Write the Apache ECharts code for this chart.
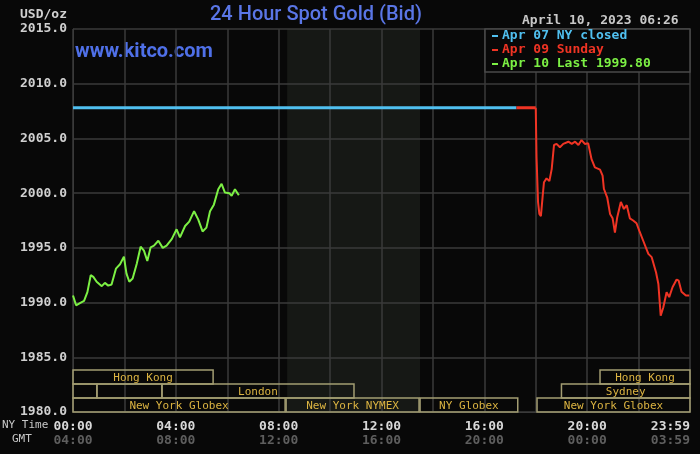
<!DOCTYPE html>
<html>
<head>
<meta charset="utf-8">
<script src="https://cdn.jsdelivr.net/npm/echarts@6/dist/echarts.min.js"></script>
<style>
  html, body { margin: 0; padding: 0; background: #080808; }
  #chart { width: 700px; height: 454px; }
</style>
</head>
<body>
<div id="chart"></div>
<script>
// hours are NY time on the 24h axis
const closeHours = [0, 17.25]
const closePrices = [2007.8, 2007.8]

const sundayFlatHours = [17.25, 18.0]
const sundayFlatPrices = [2007.8, 2007.8]

const sundayHours = [18.0, 18.03, 18.09, 18.14, 18.2, 18.27, 18.32, 18.42, 18.53, 18.62, 18.71, 18.81,
  18.94, 19.07, 19.27, 19.4, 19.53, 19.66, 19.78, 19.91, 20.04, 20.17, 20.3, 20.5, 20.6, 20.65,
  20.78, 20.89, 20.99, 21.08, 21.17, 21.31, 21.43, 21.54, 21.66, 21.79, 21.92, 22.03, 22.18,
  22.38, 22.51, 22.68, 22.77, 22.86, 22.96, 23.09, 23.19, 23.32, 23.48, 23.56, 23.67, 23.84, 23.97]
const sundayPrices = [2007.8, 2003.3, 1999.15, 1998.1, 1997.9, 1999.75, 2001.0, 2001.35, 2001.1, 2002.2, 2004.4, 2004.5,
  2004.2, 2004.5, 2004.7, 2004.5, 2004.7, 2004.4, 2004.85, 2004.5, 2004.55, 2003.1, 2002.35, 2002.15, 2001.6, 2000.4,
  1999.6, 1998.1, 1997.7, 1996.4, 1997.8, 1999.2, 1998.55, 1998.9, 1997.7, 1997.5, 1997.25, 1996.55, 1995.65,
  1994.45, 1994.15, 1992.75, 1991.7, 1988.8, 1989.55, 1990.95, 1990.5, 1991.4, 1992.1, 1992.0, 1991.0, 1990.65, 1990.65]

const todayHours = [0, 0.12, 0.27, 0.43, 0.56, 0.69, 0.79, 0.92, 1.12, 1.24, 1.37, 1.5, 1.67, 1.83,
  1.98, 2.08, 2.19, 2.32, 2.48, 2.63, 2.76, 2.89, 3.02, 3.15, 3.32, 3.49, 3.64, 3.84, 4.03, 4.16,
  4.36, 4.52, 4.71, 4.87, 5.04, 5.19, 5.33, 5.48, 5.65, 5.78, 5.91, 6.08, 6.17, 6.3, 6.45]
const todayPrices = [1990.65, 1989.75, 1989.95, 1990.15, 1990.95, 1992.5, 1992.35, 1991.9, 1991.5, 1991.8, 1991.55, 1991.65, 1993.1, 1993.5,
  1994.2, 1992.65, 1991.9, 1992.2, 1993.55, 1995.1, 1994.75, 1993.8, 1995.05, 1995.2, 1995.65, 1995.0, 1995.2, 1995.8, 1996.7, 1995.95,
  1997.0, 1997.4, 1998.35, 1997.6, 1996.5, 1996.85, 1998.35, 1998.95, 2000.35, 2000.85, 2000.05, 2000.0, 1999.75, 2000.35, 1999.8]

// NYMEX pit session shading
const pitHours = [8.33, 13.5]

// market sessions: row 0 = bottom
const sessionNames = ['New York Globex', 'New York NYMEX', 'NY Globex', 'New York Globex',
  '', '', 'London', 'Sydney', 'Hong Kong', 'Hong Kong']
const sessionStart = [0, 8.29, 13.5, 18.05, 0, 0.93, 3.46, 19.0, 0, 20.5]
const sessionEnd = [8.25, 13.46, 17.3, 24, 0.93, 3.46, 10.93, 24, 5.45, 24]
const sessionRow = [0, 0, 0, 0, 1, 1, 1, 1, 2, 2]

const yTicks = [1980, 1985, 1990, 1995, 2000, 2005, 2010, 2015]

const mono = 'DejaVu Sans Mono'
const gridColor = '#3a3a3a'
const rowH = 1.28

const pad = n => String(n).padStart(2, '0')
const toPairs = (xs, ys) => xs.map((x, i) => [x, ys[i]])

const option = {
  backgroundColor: '#080808',
  animation: false,
  grid: { left: 73, right: 10, top: 29, bottom: 42 },
  legend: {
    left: 492,
    top: 29,
    orient: 'vertical',
    padding: 0,
    itemGap: 0,
    itemWidth: 6,
    itemHeight: 2,
    icon: 'rect',
    selectedMode: false,
    z: 10,
    textStyle: { fontFamily: mono, fontSize: 13, fontWeight: 'bold', lineHeight: 14, padding: [0, 0, 0, -1] },
    data: [
      { name: 'Apr 07 NY closed', textStyle: { color: '#50c0f0' } },
      { name: 'Apr 09 Sunday', textStyle: { color: '#f03424' } },
      { name: 'Apr 10 Last 1999.80', textStyle: { color: '#7cf044' } }
    ]
  },
  xAxis: {
    type: 'value',
    min: 0,
    max: 24,
    interval: 2,
    axisLine: { show: true, lineStyle: { color: gridColor } },
    axisTick: { show: false },
    splitLine: { show: true, lineStyle: { color: gridColor, width: 1.5 } },
    axisLabel: {
      margin: 8,
      alignMaxLabel: 'right',
      fontFamily: mono,
      fontSize: 13,
      fontWeight: 'bold',
      lineHeight: 14,
      formatter: v => {
        if (v % 4 !== 0) return ''
        const ny = v === 24 ? '23:59' : pad(v) + ':00'
        const gmt = v === 24 ? '03:59' : pad((v + 4) % 24) + ':00'
        return '{a|' + ny + '}\n{b|' + gmt + '}'
      },
      rich: {
        a: { color: '#d8d8d8', fontFamily: mono, fontSize: 13, fontWeight: 'bold', lineHeight: 14 },
        b: { color: '#5e5e5e', fontFamily: mono, fontSize: 13, fontWeight: 'bold', lineHeight: 14 }
      }
    }
  },
  yAxis: {
    type: 'value',
    min: yTicks[0],
    max: yTicks[yTicks.length - 1],
    interval: 5,
    axisLine: { show: true, lineStyle: { color: gridColor } },
    axisTick: { show: false },
    splitLine: { show: true, lineStyle: { color: gridColor, width: 1.5 } },
    axisLabel: {
      margin: 6,
      color: '#d0d0d0',
      fontFamily: mono,
      fontSize: 13,
      fontWeight: 'bold',
      formatter: v => v.toFixed(1)
    }
  },
  graphic: [
    {
      type: 'rect', z: 5,
      shape: { x: 485, y: 29, width: 205, height: 43 },
      style: { fill: '#080808', stroke: '#4a4a4a', lineWidth: 1.5 }
    },
    {
      type: 'text', left: 210, top: 5,
      style: { text: '24 Hour Spot Gold (Bid)', fill: '#5a76e6', font: '500 20px Roboto' }
    },
    {
      type: 'text', left: 75, top: 42,
      style: { text: 'www.kitco.com', fill: '#4f70e8', font: 'bold 20px Roboto' }
    },
    {
      type: 'text', right: 633, top: 8,
      style: { text: 'USD/oz', fill: '#d0d0d0', font: 'bold 13px "DejaVu Sans Mono"' }
    },
    {
      type: 'text', left: 522, top: 14,
      style: { text: 'April 10, 2023 06:26', fill: '#c8c8c8', font: 'bold 13px "DejaVu Sans Mono"' }
    },
    {
      type: 'text', left: 2, top: 420,
      style: { text: 'NY Time', fill: '#c8c8c8', font: '11px "DejaVu Sans Mono"' }
    },
    {
      type: 'text', left: 12, top: 434,
      style: { text: 'GMT', fill: '#c8c8c8', font: '11px "DejaVu Sans Mono"' }
    }
  ],
  series: [
    {
      name: 'pit',
      type: 'line',
      z: -1,
      data: [],
      silent: true,
      markArea: {
        z: -1,
        silent: true,
        itemStyle: { color: 'rgba(36,40,34,0.5)' },
        data: [[{ xAxis: pitHours[0] }, { xAxis: pitHours[1] }]]
      }
    },
    {
      name: 'sessions',
      type: 'custom',
      z: 3,
      silent: true,
      encode: { x: [0, 1], y: 2 },
      data: sessionStart.map((s, i) => [s, sessionEnd[i], sessionRow[i]]),
      renderItem: (params, api) => {
        const row = api.value(2)
        const lo = yTicks[0] + row * rowH
        const p0 = api.coord([api.value(0), lo + rowH])
        const p1 = api.coord([api.value(1), lo])
        return {
          type: 'group',
          children: [
            {
              type: 'rect',
              shape: { x: p0[0], y: p0[1], width: p1[0] - p0[0], height: p1[1] - p0[1] },
              style: { fill: 'none', stroke: '#a39d72', lineWidth: 1.5 }
            },
            {
              type: 'text',
              style: {
                text: sessionNames[params.dataIndex],
                x: (p0[0] + p1[0]) / 2,
                y: (p0[1] + p1[1]) / 2 + 1,
                align: 'center',
                verticalAlign: 'middle',
                fill: '#dcb442',
                font: '11px "DejaVu Sans Mono"'
              }
            }
          ]
        }
      }
    },
    {
      name: 'Apr 07 NY closed',
      type: 'line',
      showSymbol: false,
      color: '#50c0f0',
      lineStyle: { width: 3 },
      data: toPairs(closeHours, closePrices)
    },
    {
      name: 'Apr 09 Sunday',
      type: 'line',
      showSymbol: false,
      color: '#f03424',
      lineStyle: { width: 3 },
      data: toPairs(sundayFlatHours, sundayFlatPrices)
    },
    {
      name: 'Apr 09 Sunday',
      type: 'line',
      showSymbol: false,
      color: '#f03424',
      lineStyle: { width: 2 },
      data: toPairs(sundayHours, sundayPrices)
    },
    {
      name: 'Apr 10 Last 1999.80',
      type: 'line',
      showSymbol: false,
      color: '#7cf044',
      lineStyle: { width: 2 },
      data: toPairs(todayHours, todayPrices)
    }
  ]
}

const myChart = echarts.init(document.getElementById('chart'))
myChart.setOption(option)
</script>
</body>
</html>
